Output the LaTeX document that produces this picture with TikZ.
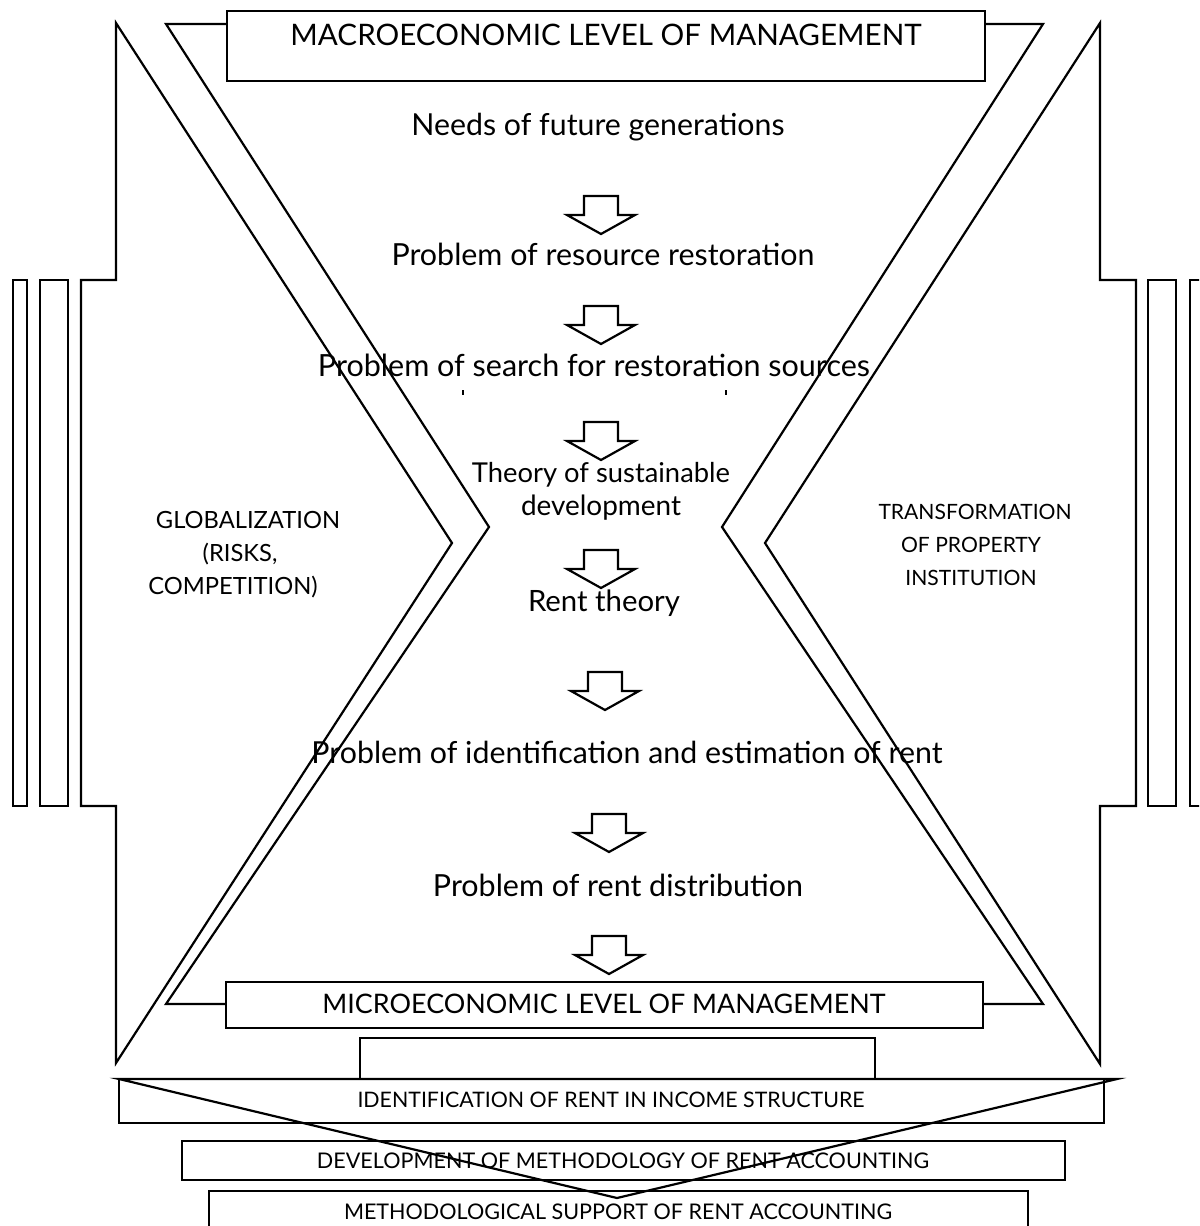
\documentclass[tikz,border=0pt]{standalone}
\usepackage{fontspec}
\setmainfont{Lato}
\usepackage{graphicx}
\newlength\pxu
\setlength\pxu{0.02cm}
\newcommand\fitw[2]{\resizebox{#1\pxu}{!}{#2}}
\newcommand\dnarrow[2]{%
  \draw[arr] ({#1-17},#2) -- ({#1+17},#2) -- ({#1+17},{#2+19}) -- ({#1+34},{#2+19})
    -- (#1,{#2+38}) -- ({#1-34},{#2+19}) -- ({#1-17},{#2+19}) -- cycle;}
\begin{document}
\begin{tikzpicture}[x=0.02cm,y=-0.02cm,
  ln/.style={draw=black, line width=1.25pt, line join=miter},
  arr/.style={draw=black, line width=1.25pt, fill=white, line join=miter},
  txt/.style={inner sep=0pt, anchor=base, text=black},
  side/.style={inner sep=0pt, anchor=base, text=black, font=\fontsize{12pt}{14pt}\selectfont},
  sidel/.style={inner sep=0pt, anchor=base, text=black, font=\fontsize{13.5pt}{15pt}\selectfont}]
\useasboundingbox (0,0) rectangle (1199,1226);
\clip (0,0) rectangle (1199,1226);

% ---- left chevron and bars
\draw[ln] (116,23) -- (452,543) -- (116,1063) -- (116,806) -- (81,806) -- (81,280) -- (116,280) -- cycle;
\draw[ln] (13,280) rectangle (27,806);
\draw[ln] (40,280) rectangle (68,806);
% ---- right chevron and bars
\draw[ln] (1100,23) -- (765,543) -- (1100,1064) -- (1100,806) -- (1136,806) -- (1136,280) -- (1100,280) -- cycle;
\draw[ln] (1148,280) rectangle (1176,806);
\draw[ln] (1190,280) rectangle (1204,806);

% ---- top and bottom level boxes
\draw[ln] (227,11) rectangle (985,81);
\draw[ln] (226,982) rectangle (983,1028);
% ---- inner lines
\draw[ln] (227,24) -- (166,24) -- (489,527) -- (166,1004) -- (226,1004);
\draw[ln] (985,24) -- (1043,24) -- (722,527) -- (1043,1004) -- (983,1004);

% ---- texts
\node[txt] (macrot) at (606,46) {\fitw{631}{MACROECONOMIC LEVEL OF MANAGEMENT}};
\node[txt] (needs) at (598,136) {\fitw{373}{Needs of future generations}};
\node[txt] (restor) at (603,266) {\fitw{423}{Problem of resource restoration}};
\node[txt] (search) at (594,376) {\fitw{552}{Problem of search for restoration sources}};
\fill (462,390) rectangle (464,395);
\fill (725,390) rectangle (727,395);
\node[txt] (theoa) at (601,482) {\fitw{258}{Theory of sustainable}};
\node[txt] (theob) at (601,515) {\fitw{160}{development}};
\node[txt] (rent) at (604,611) {\fitw{152}{Rent theory}};
\node[txt] (identp) at (627,763) {\fitw{631}{Problem of identification and estimation of rent}};
\node[txt] (distr) at (618,896) {\fitw{370}{Problem of rent distribution}};
\node[txt] (microt) at (604,1013) {\fitw{563}{MICROECONOMIC LEVEL OF MANAGEMENT}};

\node[sidel] (gloa) at (248,528) {GLOBALIZATION};
\node[sidel] (glob) at (240,561) {(RISKS,};
\node[sidel] (gloc) at (233,594) {COMPETITION)};
\node[side] (tra) at (975,519) {TRANSFORMATION};
\node[side] (trb) at (971,552) {OF PROPERTY};
\node[side] (trc) at (971,585) {INSTITUTION};

% ---- block arrows
\dnarrow{601}{196}
\dnarrow{601}{306}
\dnarrow{601}{422}
\dnarrow{601}{550}
\dnarrow{605}{672}
\dnarrow{609}{814}
\dnarrow{609}{936}

% ---- bottom stack
\draw[ln] (360,1079) -- (360,1038) -- (875,1038) -- (875,1079);
\draw[ln] (119,1079) rectangle (1104,1123);
\node[txt] (identt) at (611,1107) {\fitw{507}{IDENTIFICATION OF RENT IN INCOME STRUCTURE}};
\draw[ln] (182,1141) rectangle (1065,1180);
\node[txt] (devt) at (623,1168) {\fitw{612}{DEVELOPMENT OF METHODOLOGY OF RENT ACCOUNTING}};
\draw[ln] (209,1191) rectangle (1028,1250);
\draw[ln] (119,1079) -- (1117,1079) -- (617,1198) -- cycle;
\node[txt] (metht) at (618,1219) {\fitw{548}{METHODOLOGICAL SUPPORT OF RENT ACCOUNTING}};
\end{tikzpicture}
\end{document}
